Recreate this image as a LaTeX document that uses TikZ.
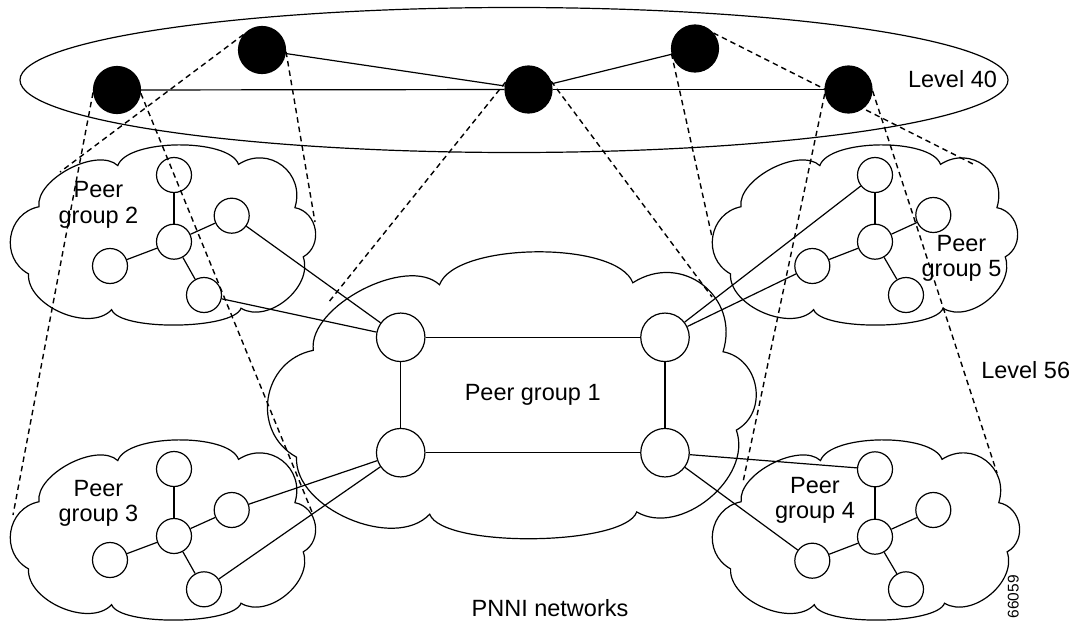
\documentclass[tikz,border=0pt]{standalone}
\usepackage{fontspec}
\setmainfont{Liberation Sans}
\newcommand{\drawcloud}[3]{%
  \begin{scope}[shift={#1},xscale=#2,yscale=#3]
    \draw[outline] (0.35,0.115)
      .. controls (0.381,-0.035) and (0.71,-0.041) .. (0.742,0.108)
      .. controls (0.841,-0.002) and (0.96,0.156) .. (0.925,0.35)
      .. controls (0.999,0.374) and (1.018,0.561) .. (0.952,0.625)
      .. controls (0.986,0.792) and (0.838,1.002) .. (0.75,0.912)
      .. controls (0.725,1.032) and (0.356,1.04) .. (0.33,0.92)
      .. controls (0.259,1.051) and (0.054,0.899) .. (0.06,0.72)
      .. controls (-0.034,0.630) and (-0.011,0.381) .. (0.094,0.345)
      .. controls (0.082,0.191) and (0.284,0.009) .. (0.35,0.115) -- cycle;
  \end{scope}}
\tikzset{
  hub/.style={circle,fill=black,draw=black,line width=1.2pt,minimum size=47pt,inner sep=0pt},
  snode/.style={circle,draw=black,line width=1.2pt,minimum size=35pt,inner sep=0pt},
  bnode/.style={circle,draw=black,line width=1.2pt,minimum size=48.5pt,inner sep=0pt},
  link/.style={draw=black,line width=1.2pt},
  proj/.style={draw=black,line width=1.4pt,dash pattern=on 5.5pt off 4pt},
  outline/.style={draw=black,line width=1.2pt},
  lbl/.style={font=\fontsize{23.5}{25.5}\selectfont,inner sep=0pt,align=center},
  tag/.style={font=\fontsize{15.5}{18}\selectfont,inner sep=0pt,rotate=90}
}
\begin{document}
\begin{tikzpicture}[x=1pt,y=-1pt]
\useasboundingbox (0,0) rectangle (1079,621);

% level 40 ellipse
\draw[outline] (514,80) ellipse [x radius=494pt, y radius=72.5pt];

% clouds
\drawcloud{(10,145)}{308}{179}
\drawcloud{(712,145)}{308}{179}
\drawcloud{(10,440)}{308}{179}
\drawcloud{(712,440)}{310}{179}
\drawcloud{(267,252)}{493}{285}

% hub nodes (level 40)
\node[hub] (A) at (117,90) {};
\node[hub] (B) at (262,50) {};
\node[hub] (C) at (528.5,89.5) {};
\node[hub] (D) at (695,48.5) {};
\node[hub] (E) at (848.5,89.5) {};

% peer group 1
\node[bnode] (p1ul) at (400.7,337.3) {};
\node[bnode] (p1ur) at (665,337.3) {};
\node[bnode] (p1ll) at (400.7,452.7) {};
\node[bnode] (p1lr) at (665,452.7) {};

% peer group 2
\node[snode] (c2t) at (174,175) {};
\node[snode] (c2r) at (231.7,215.7) {};
\node[snode] (c2c) at (174,241.7) {};
\node[snode] (c2l) at (110,266) {};
\node[snode] (c2b) at (204,295) {};
% peer group 5
\node[snode] (c5t) at (875,175) {};
\node[snode] (c5r) at (933.3,215) {};
\node[snode] (c5c) at (875,241.7) {};
\node[snode] (c5l) at (812.3,266) {};
\node[snode] (c5b) at (906,295) {};
% peer group 3
\node[snode] (c3t) at (174,469) {};
\node[snode] (c3r) at (231.7,510) {};
\node[snode] (c3c) at (174,536) {};
\node[snode] (c3l) at (110,560) {};
\node[snode] (c3b) at (204,589.3) {};
% peer group 4
\node[snode] (c4t) at (875,469.3) {};
\node[snode] (c4r) at (933.3,510) {};
\node[snode] (c4c) at (875,536.7) {};
\node[snode] (c4l) at (812.3,560.7) {};
\node[snode] (c4b) at (906,589.3) {};

% links level 40
\draw[link] (A) -- (C);
\draw[link] (C) -- (E);
\draw[link] (B) -- (C);
\draw[link] (C) -- (D);

% links peer group 1
\draw[link] (p1ul) -- (p1ur);
\draw[link] (p1ul) -- (p1ll);
\draw[link] (p1ur) -- (p1lr);
\draw[link] (p1ll) -- (p1lr);

% links inside small groups
\foreach \g in {2,3,4,5}{
  \draw[link] (c\g c) -- (c\g t);
  \draw[link] (c\g c) -- (c\g r);
  \draw[link] (c\g c) -- (c\g l);
  \draw[link] (c\g c) -- (c\g b);
}

% links between groups
\draw[link] (c2r) -- (p1ul);
\draw[link] (c2b) -- (p1ul);
\draw[link] (c5t) -- (p1ur);
\draw[link] (c5l) -- (p1ur);
\draw[link] (c3r) -- (p1ll);
\draw[link] (c3b) -- (p1ll);
\draw[link] (c4t) -- (p1lr);
\draw[link] (c4l) -- (p1lr);

% projection lines
\coordinate (a3l) at (13,515);
\coordinate (a3r) at (312,512);
\coordinate (b2l) at (60,172);
\coordinate (b2r) at (315,222);
\coordinate (c1l) at (328,303);
\coordinate (c1r) at (712,297);
\coordinate (d5l) at (712,237);
\coordinate (d5r) at (975,165);
\coordinate (e4l) at (743,482);
\coordinate (e4r) at (997,473);
\draw[proj] (A.186) -- (a3l);
\draw[proj] (A.352) -- (a3r);
\draw[proj] (B.140) -- (b2l);
\draw[proj] (B.356) -- (b2r);
\draw[proj] (C.162) -- (c1l);
\draw[proj] (C.20) -- (c1r);
\draw[proj] (D.192) -- (d5l);
\draw[proj] (D.40) -- (d5r);
\draw[proj] (E.190) -- (e4l);
\draw[proj] (E.357) -- (e4r);

% labels
\node[lbl,anchor=base] (lv40) at (952.5,87) {Level 40};
\node[lbl,anchor=base] (lv56) at (1025.7,378.3) {Level 56};
\node[lbl,anchor=base] (pg1) at (532.7,400.7) {Peer group 1};
\node[lbl,anchor=base] (pnni) at (550,616.7) {PNNI networks};
\node[lbl] (pg2) at (98.5,205.1) {Peer\\group 2};
\node[lbl] (pg3) at (98.5,503.5) {Peer\\group 3};
\node[lbl] (pg4) at (815,500.1) {Peer\\group 4};
\node[lbl] (pg5) at (961.5,258.5) {Peer\\group 5};
\node[tag] (fig) at (1013.3,596.7) {66059};
\end{tikzpicture}
\end{document}
